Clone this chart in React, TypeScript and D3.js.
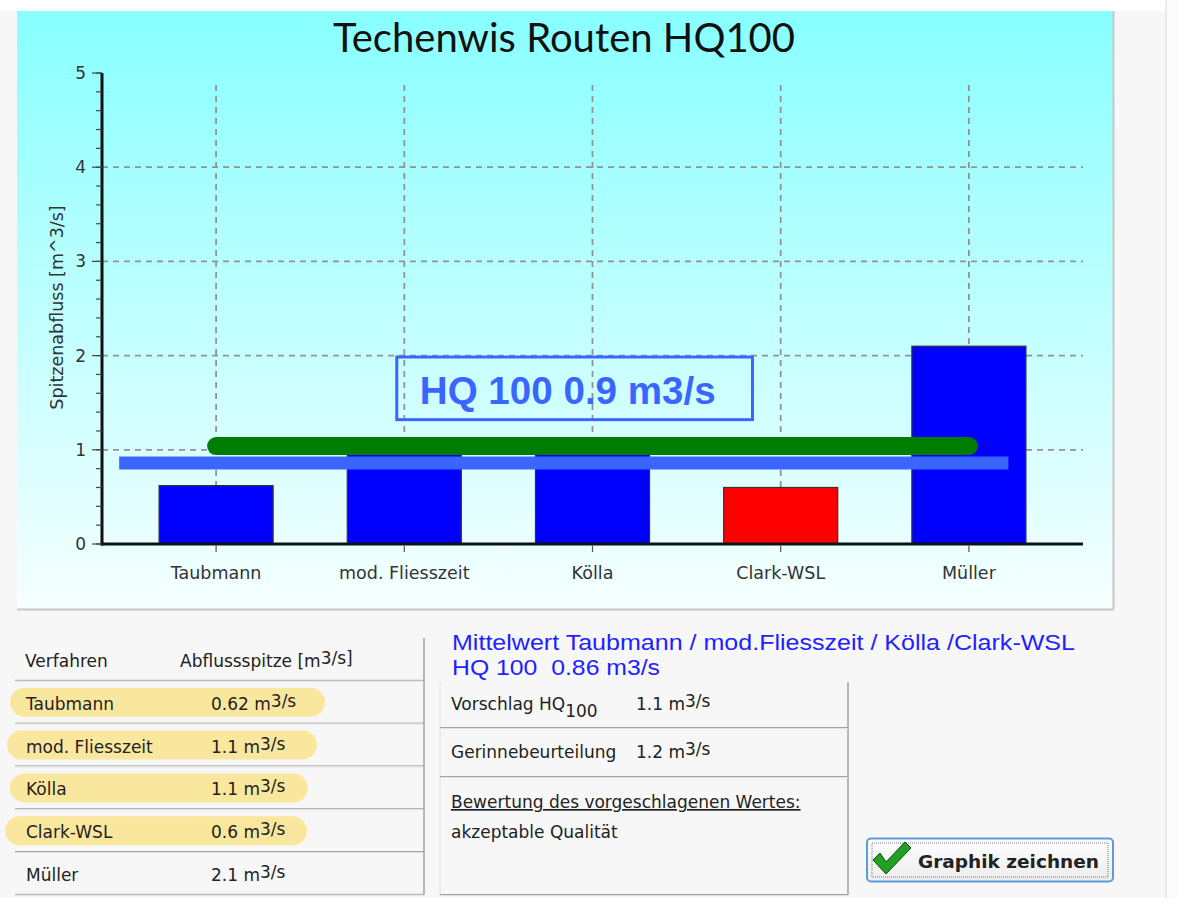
import React from "react";
import * as d3 from "d3";

// ---------- data ----------
const categories = ["Taubmann", "mod. Fliesszeit", "Kölla", "Clark-WSL", "Müller"];
const peakValues = [0.62, 1.1, 1.1, 0.6, 2.1];
const barColors = ["#0000ff", "#0000ff", "#0000ff", "#ff0000", "#0000ff"];
const yTicks = [0, 1, 2, 3, 4, 5];
const yMinorTicks = d3.range(0, 5.001, 0.2);
const title = "Techenwis Routen HQ100";
const yTitle = "Spitzenabfluss [m^3/s]";
const meanValue = 0.86; // blue line (Mittelwert)
const meanLineIdx = [-0.515, 4.21]; // blue line extent, in category-index units
const greenLineValue = 1.04; // green marker line
const greenLineIdx = [0, 4];
const boxLabel = "HQ 100 0.9 m3/s";
const boxIdx = [0.96, 2.85];
const boxVal = [1.32, 1.985];

const tableHeader = ["Verfahren", "Abflussspitze [m"];
const tableValues = ["0.62", "1.1", "1.1", "0.6", "2.1"];
const highlighted = [true, true, true, true, false];
const meanTextLines = ["Mittelwert Taubmann / mod.Fliesszeit / Kölla /Clark-WSL", "HQ 100  0.86 m3/s"];
const proposalValue = "1.1";
const channelValue = "1.2";
const ratingTitle = "Bewertung des vorgeschlagenen Wertes:";
const ratingText = "akzeptable Qualität";
const buttonLabel = "Graphik zeichnen";

// ---------- layout ----------
const W = 1179;
const H = 898;
const panel = { x: 17, y: 11, w: 1096, h: 598 };
const axisX0 = 102;
const axisX1 = 1083;
const y = d3.scaleLinear().domain([0, 5]).range([544, 73]);
const x = d3
  .scaleBand<string>()
  .domain(categories)
  .range([122, 1063])
  .paddingInner(0.394)
  .paddingOuter(0.197);
const xCenter = (c: string) => (x(c) as number) + x.bandwidth() / 2;
const xIdx = d3
  .scaleLinear()
  .domain([0, categories.length - 1])
  .range([xCenter(categories[0]), xCenter(categories[categories.length - 1])]);

const UI = "'DejaVu Sans', Verdana, sans-serif";
const ARIAL = "'Liberation Sans', Arial, sans-serif";

const rowTop = 638;
const rowH = 42.8;
const pillRight = [325, 317, 308, 307];
const pillLeft = [10, 7, 10, 5];

function Unit({ v }: { v: string }) {
  return (
    <>
      {v} m<tspan dy={-3}>3/s</tspan>
    </>
  );
}

export default function App() {
  const gridColor = "#939393";
  return (
    <div style={{ position: "absolute", left: 0, top: 0 }}>
      <svg width={W} height={H} style={{ display: "block" }}>
        <defs>
          <linearGradient id="bg" x1="0" y1="0" x2="0" y2="1">
            <stop offset="0%" stopColor="#88ffff" />
            <stop offset="100%" stopColor="#f6ffff" />
          </linearGradient>
          <linearGradient id="btn" x1="0" y1="0" x2="0" y2="1">
            <stop offset="0%" stopColor="#ffffff" />
            <stop offset="100%" stopColor="#ececec" />
          </linearGradient>
        </defs>
        {/* window background */}
        <rect x={0} y={0} width={W} height={H} fill="#f7f7f7" />
        <rect x={0} y={0} width={W} height={panel.y} fill="#ffffff" />
        <rect x={1166} y={0} width={13} height={H} fill="#fbfbfb" />
        <line x1={1166} x2={1166} y1={0} y2={H} stroke="#dcdcdc" />

        {/* chart panel */}
        <rect x={panel.x} y={panel.y} width={panel.w} height={panel.h} fill="url(#bg)" />
        <line x1={panel.x + panel.w + 0.5} x2={panel.x + panel.w + 0.5} y1={panel.y} y2={panel.y + panel.h} stroke="#c8c8c8" strokeWidth={2} />
        <line x1={panel.x} x2={panel.x + panel.w + 1} y1={panel.y + panel.h + 0.5} y2={panel.y + panel.h + 0.5} stroke="#c8c8c8" strokeWidth={2} />

        <text x={564} y={52} textAnchor="middle" fontFamily="Lato, 'Open Sans', sans-serif" fontSize={40} fill="#111">
          {title}
        </text>

        {/* grid */}
        {yTicks.filter((t) => t > 0 && t < 5).map((t) => (
          <line key={"hg" + t} x1={axisX0} x2={axisX1} y1={y(t)} y2={y(t)} stroke={gridColor} strokeWidth={1.8} strokeDasharray="6,5" />
        ))}
        {categories.map((c) => (
          <line key={"vg" + c} x1={xCenter(c)} x2={xCenter(c)} y1={y(5) + 12} y2={y(0)} stroke={gridColor} strokeWidth={1.8} strokeDasharray="6,5" />
        ))}

        {/* bars */}
        {categories.map((c, i) => (
          <rect
            key={"b" + c}
            x={x(c)}
            y={y(peakValues[i])}
            width={x.bandwidth()}
            height={y(0) - y(peakValues[i])}
            fill={barColors[i]}
            stroke="#333"
            strokeWidth={1.2}
          />
        ))}

        {/* axes */}
        <line x1={axisX0} x2={axisX0} y1={y(5)} y2={y(0) + 1.5} stroke="#111" strokeWidth={3} />
        <line x1={axisX0 - 1.5} x2={axisX1} y1={y(0)} y2={y(0)} stroke="#111" strokeWidth={3} />
        {yMinorTicks.map((t) => (
          <line key={"mt" + t.toFixed(1)} x1={axisX0 - 6} x2={axisX0} y1={y(t)} y2={y(t)} stroke="#444" strokeWidth={1.2} />
        ))}
        {yTicks.map((t) => (
          <g key={"yt" + t}>
            <line x1={axisX0 - 10} x2={axisX0} y1={y(t)} y2={y(t)} stroke="#444" strokeWidth={1.2} />
            <text x={86} y={y(t) + 6} textAnchor="end" fontFamily={UI} fontSize={17} fill="#333">
              {t}
            </text>
          </g>
        ))}
        {categories.map((c) => (
          <g key={"xt" + c}>
            <line x1={xCenter(c)} x2={xCenter(c)} y1={y(0) + 1.5} y2={y(0) + 8} stroke="#555" strokeWidth={1.2} />
            <text x={xCenter(c)} y={579} textAnchor="middle" fontFamily={UI} fontSize={17.5} fill="#333">
              {c}
            </text>
          </g>
        ))}
        <text
          transform={`translate(57,${(y(0) + y(5)) / 2 - 1}) rotate(-90)`}
          textAnchor="middle"
          dominantBaseline="central"
          fontFamily={UI}
          fontSize={17.5}
          fill="#333"
        >
          {yTitle}
        </text>

        {/* annotation lines */}
        <line
          x1={xIdx(greenLineIdx[0])}
          x2={xIdx(greenLineIdx[1])}
          y1={y(greenLineValue)}
          y2={y(greenLineValue)}
          stroke="#007c00"
          strokeWidth={18}
          strokeLinecap="round"
        />
        <line
          x1={xIdx(meanLineIdx[0])}
          x2={xIdx(meanLineIdx[1])}
          y1={y(meanValue)}
          y2={y(meanValue)}
          stroke="#3a66ff"
          strokeWidth={13}
        />
        <rect
          x={xIdx(boxIdx[0])}
          y={y(boxVal[1])}
          width={xIdx(boxIdx[1]) - xIdx(boxIdx[0])}
          height={y(boxVal[0]) - y(boxVal[1])}
          fill="none"
          stroke="#3a66ff"
          strokeWidth={3}
        />
        <text x={xIdx(boxIdx[0]) + 23} y={404} fontFamily={ARIAL} fontWeight="bold" fontSize={38.6} fill="#3a66ff">
          {boxLabel}
        </text>

        {/* left table */}
        {highlighted.map((h, i) =>
          h ? (
            <rect
              key={"pill" + i}
              x={pillLeft[i]}
              y={rowTop + rowH * (i + 1) + 7}
              width={pillRight[i] - pillLeft[i]}
              height={29}
              rx={14.5}
              fill="#fae79e"
            />
          ) : null
        )}
        <text x={25} y={667} fontFamily={UI} fontSize={17} fill="#222">
          {tableHeader[0]}
        </text>
        <text x={180} y={667} fontFamily={UI} fontSize={17} fill="#222">
          {tableHeader[1]}
          <tspan dy={-3}>3/s]</tspan>
        </text>
        {categories.map((c, i) => (
          <g key={"row" + c}>
            <text x={26} y={rowTop + rowH * (i + 1) + 29} fontFamily={UI} fontSize={17} fill="#222">
              {c}
            </text>
            <text x={211} y={rowTop + rowH * (i + 1) + 29} fontFamily={UI} fontSize={17} fill="#222">
              <Unit v={tableValues[i]} />
            </text>
          </g>
        ))}
        {d3.range(1, categories.length + 2).map((k) => (
          <g key={"sep" + k}>
            <line x1={15} x2={424} y1={rowTop + rowH * k - 0.5} y2={rowTop + rowH * k - 0.5} stroke="#a3a3a3" />
            <line x1={15} x2={424} y1={rowTop + rowH * k + 0.5} y2={rowTop + rowH * k + 0.5} stroke="#e2e2e2" />
          </g>
        ))}
        <line x1={424} x2={424} y1={rowTop} y2={rowTop + rowH * 6} stroke="#a3a3a3" strokeWidth={1.5} />

        {/* middle block */}
        <text x={452} y={650} fontFamily={ARIAL} fontSize={21.5} fill="#1f1fff" textLength={623} lengthAdjust="spacingAndGlyphs">
          {meanTextLines[0]}
        </text>
        <text x={452} y={675} fontFamily={ARIAL} fontSize={21.5} fill="#1f1fff" xmlSpace="preserve" textLength={208} lengthAdjust="spacingAndGlyphs">
          {meanTextLines[1]}
        </text>
        <line x1={440} x2={440} y1={682} y2={895} stroke="#e0e0e0" />
        <line x1={848} x2={848} y1={682} y2={895} stroke="#a3a3a3" strokeWidth={1.5} />
        {[728, 777, 895].map((yy) => (
          <g key={"msep" + yy}>
            <line x1={440} x2={848} y1={yy - 0.5} y2={yy - 0.5} stroke="#a3a3a3" />
            <line x1={440} x2={848} y1={yy + 0.5} y2={yy + 0.5} stroke="#e2e2e2" />
          </g>
        ))}
        <text x={451} y={710} fontFamily={UI} fontSize={17} fill="#222">
          Vorschlag HQ<tspan dy={7}>100</tspan>
        </text>
        <text x={636} y={710} fontFamily={UI} fontSize={17} fill="#222">
          <Unit v={proposalValue} />
        </text>
        <text x={451} y={758} fontFamily={UI} fontSize={17} fill="#222">
          Gerinnebeurteilung
        </text>
        <text x={636} y={758} fontFamily={UI} fontSize={17} fill="#222">
          <Unit v={channelValue} />
        </text>
        <text x={451} y={808} fontFamily={UI} fontSize={17} fill="#222" textDecoration="underline">
          {ratingTitle}
        </text>
        <text x={451} y={838} fontFamily={UI} fontSize={17} fill="#222">
          {ratingText}
        </text>

        {/* button */}
        <rect x={867} y={838.5} width={246} height={43} rx={4} fill="url(#btn)" stroke="#5a9bdc" strokeWidth={2} />
        <rect x={872} y={843} width={236} height={34} fill="none" stroke="#777" strokeWidth={1} strokeDasharray="1,1" />
        <path
          d="M873,860 L880,853 L886,862 L905,842 L911,848 L886,874 Z"
          fill="#22a022"
          stroke="#0d4d0d"
          strokeWidth={1}
          strokeLinejoin="round"
        />
        <text x={918} y={868} fontFamily={UI} fontWeight="bold" fontSize={18.5} fill="#222">
          {buttonLabel}
        </text>
      </svg>
    </div>
  );
}
